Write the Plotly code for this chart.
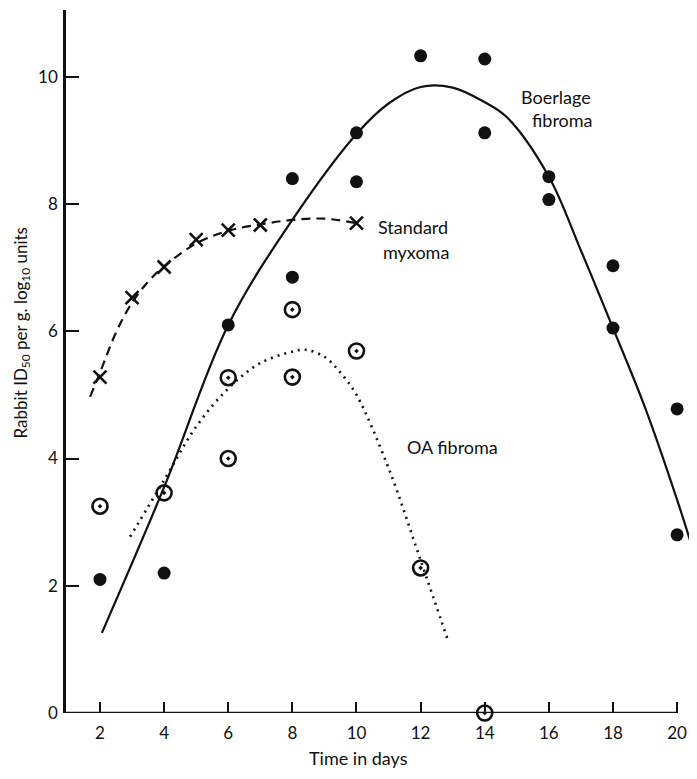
import plotly.graph_objects as go

# ---- observed data points ----
boer_days = [2, 4, 6, 8, 8, 10, 10, 12, 14, 14, 16, 16, 18, 18, 20, 20]
boer_vals = [2.1, 2.2, 6.1, 8.4, 6.85, 8.35, 9.12, 10.33, 10.28, 9.12, 8.43, 8.07, 7.03, 6.05, 4.78, 2.8]

oa_days = [2, 4, 6, 6, 8, 8, 10, 12, 14]
oa_vals = [3.25, 3.46, 4.0, 5.27, 6.34, 5.28, 5.69, 2.28, 0.0]

myx_days = [2, 3, 4, 5, 6, 7, 10]
myx_vals = [5.28, 6.53, 7.01, 7.44, 7.59, 7.67, 7.70]

# ---- fitted (hand-drawn) curves ----
boer_curve_x = [2.06, 4, 6, 8, 10, 11, 12, 13, 14, 14.7, 16, 17, 18, 19, 20, 20.62]
boer_curve_y = [1.26, 3.55, 6.1, 7.75, 9.1, 9.58, 9.84, 9.83, 9.6, 9.36, 8.43, 7.27, 6.05, 4.8, 3.35, 2.36]

oa_curve_x = [2.94, 4, 5, 6, 7, 8, 8.4, 9, 9.5, 10, 11, 12, 12.86]
oa_curve_y = [2.77, 3.66, 4.5, 5.1, 5.5, 5.68, 5.71, 5.6, 5.35, 5.0, 3.85, 2.4, 1.13]

myx_curve_x = [1.69, 2, 2.5, 3, 3.5, 4, 5, 6, 7, 8, 9, 10]
myx_curve_y = [4.97, 5.35, 5.98, 6.45, 6.78, 7.02, 7.38, 7.58, 7.68, 7.75, 7.77, 7.7]

x_ticks = [2, 4, 6, 8, 10, 12, 14, 16, 18, 20]
y_ticks = [0, 2, 4, 6, 8, 10]

FONT = "Lato"
BLACK = "#111111"

fig = go.Figure()

fig.add_trace(go.Scatter(x=boer_curve_x, y=boer_curve_y, mode="lines",
                         line=dict(color=BLACK, width=2.2, shape="spline", smoothing=1.0),
                         showlegend=False, hoverinfo="skip"))
fig.add_trace(go.Scatter(x=oa_curve_x, y=oa_curve_y, mode="lines",
                         line=dict(color=BLACK, width=2.6, shape="spline", smoothing=1.0, dash="2px,5px"),
                         showlegend=False, hoverinfo="skip"))
fig.add_trace(go.Scatter(x=myx_curve_x, y=myx_curve_y, mode="lines",
                         line=dict(color=BLACK, width=2.2, shape="spline", smoothing=1.0, dash="9px,6px"),
                         showlegend=False, hoverinfo="skip"))

fig.add_trace(go.Scatter(x=boer_days, y=boer_vals, mode="markers", name="Boerlage fibroma",
                         marker=dict(symbol="circle", size=13, color=BLACK),
                         showlegend=False))
fig.add_trace(go.Scatter(x=oa_days, y=oa_vals, mode="markers", name="OA fibroma",
                         marker=dict(symbol="circle-open-dot", size=15, color=BLACK,
                                     line=dict(width=2.6, color=BLACK)),
                         cliponaxis=False, showlegend=False))
fig.add_trace(go.Scatter(x=myx_days, y=myx_vals, mode="markers", name="Standard myxoma",
                         marker=dict(symbol="x-thin-open", size=13, color=BLACK,
                                     line=dict(width=2.6, color=BLACK)),
                         showlegend=False))

# x-axis line ends at day 20
fig.add_shape(type="line", xref="x", yref="y", x0=0.94, x1=20.0, y0=0, y1=0,
              line=dict(color=BLACK, width=2.6), layer="above")

labels = [
    ("Boerlage", 16.21, 9.69),
    ("fibroma", 16.43, 9.32),
    ("Standard", 11.75, 7.64),
    ("myxoma", 11.86, 7.25),
    ("OA fibroma", 13.0, 4.18),
]
for txt, lx, ly in labels:
    fig.add_annotation(x=lx, y=ly, xref="x", yref="y", text=txt, showarrow=False,
                       font=dict(family=FONT, size=18, color=BLACK),
                       xanchor="center", yanchor="middle")

fig.add_annotation(x=-0.0697, y=0.54, xref="paper", yref="paper",
                   text="Rabbit ID<sub>50</sub> per g. log<sub>10</sub> units",
                   textangle=-90, showarrow=False,
                   font=dict(family=FONT, size=17, color=BLACK),
                   xanchor="center", yanchor="middle")
fig.add_annotation(x=0.464, y=-0.064, xref="paper", yref="paper",
                   text="Time in days", showarrow=False,
                   font=dict(family=FONT, size=18, color=BLACK),
                   xanchor="center", yanchor="middle")

# the page body adds an 8px offset, so the figure is sized to fill the rest
fig.update_layout(
    width=689, height=771, autosize=False,
    margin=dict(l=58, r=0, t=2, b=66),
    paper_bgcolor="white", plot_bgcolor="white",
    font=dict(family=FONT, size=17, color=BLACK),
    xaxis=dict(range=[0.94, 20.62], tickvals=x_ticks, ticktext=[str(v) for v in x_ticks],
               ticks="inside", ticklen=11, tickwidth=2, tickcolor=BLACK,
               showline=False, showgrid=False, zeroline=False, automargin=False,
               ticklabelstandoff=8, tickfont=dict(family=FONT, size=17, color=BLACK)),
    yaxis=dict(range=[0, 11.05], tickvals=y_ticks, ticktext=[str(v) for v in y_ticks],
               ticks="inside", ticklen=13, tickwidth=2, tickcolor=BLACK,
               showline=True, linecolor=BLACK, linewidth=2.6, mirror=False,
               showgrid=False, zeroline=False, automargin=False,
               ticklabelstandoff=2, tickfont=dict(family=FONT, size=17, color=BLACK)),
)

fig.write_html("out.html")
